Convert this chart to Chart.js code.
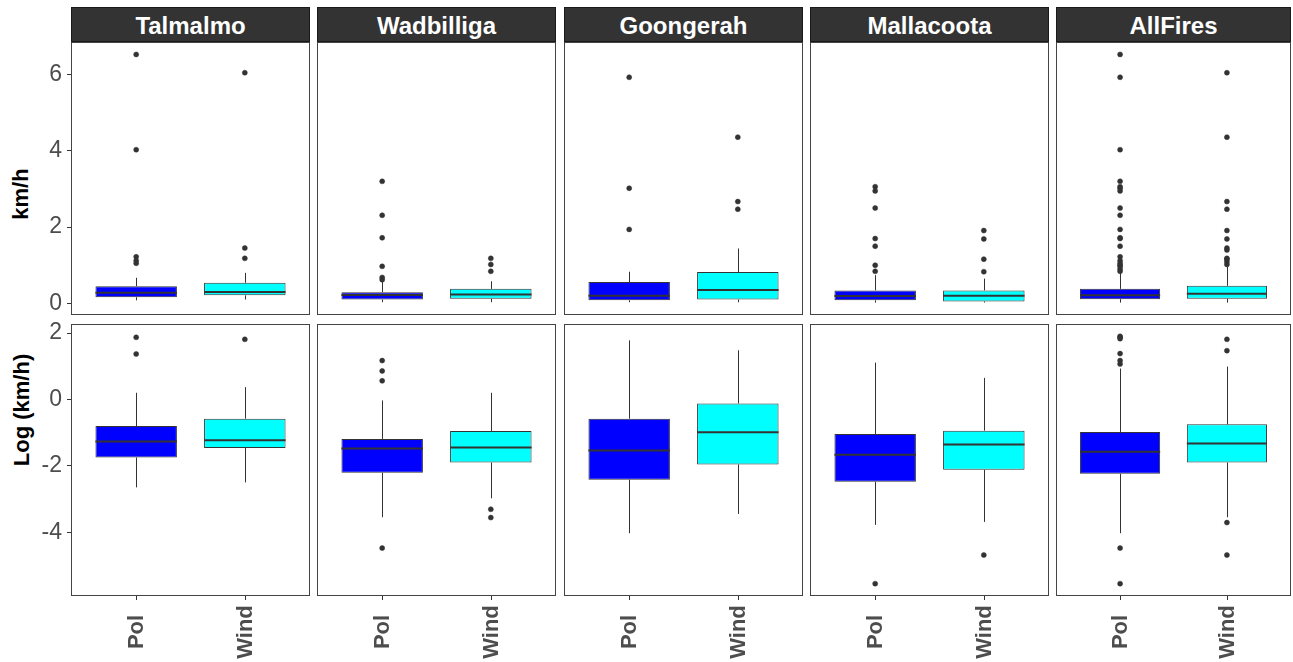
<!DOCTYPE html>
<html><head><meta charset="utf-8">
<script src="https://cdn.jsdelivr.net/npm/chart.js@4.4.1/dist/chart.umd.min.js"></script>
<style>
html,body{margin:0;padding:0;background:#fff;width:1293px;height:662px;overflow:hidden;position:relative;font-family:'Liberation Sans',Arial,sans-serif;}
canvas{position:absolute;}
.strip{position:absolute;background:#333333;border:1px solid #1a1a1a;box-sizing:border-box;color:#fff;font-weight:bold;font-size:24px;text-align:center;line-height:36px;overflow:hidden;}
.ytitle{position:absolute;font-weight:bold;font-size:22px;color:#000;transform:translate(-50%,-50%) rotate(-90deg);white-space:nowrap;}
</style></head><body>
<script>
// ---------------- DATA ----------------
const sites = ['Talmalmo','Wadbilliga','Goongerah','Mallacoota','AllFires'];
const groups = ['Pol','Wind'];
const groupColors = ['#0000FF','#00FFFF'];
const rowTitles = ['km/h','Log (km/h)'];
const yTicksKmh = [0,2,4,6];
const yTicksLog = [-4,-2,0,2];

// km/h row: per site [Pol, Wind]
const kmhLower  = [[0.08,0.10],[0.03,0.03],[0.03,0.03],[0.02,0.02],[0.02,0.02]];
const kmhQ1     = [[0.16,0.21],[0.10,0.12],[0.08,0.10],[0.08,0.05],[0.11,0.12]];
const kmhMedian = [[0.28,0.30],[0.22,0.23],[0.20,0.35],[0.19,0.20],[0.21,0.25]];
const kmhQ3     = [[0.45,0.54],[0.29,0.38],[0.56,0.82],[0.34,0.34],[0.38,0.46]];
const kmhUpper  = [[0.67,0.80],[0.56,0.58],[0.83,1.44],[0.74,0.65],[0.80,0.96]];
const kmhOutliers = [
  [[6.53,4.03,1.22,1.12,1.05],[6.05,1.45,1.18]],
  [[3.20,2.31,1.72,0.97,0.68,0.62],[1.18,1.02,0.84]],
  [[5.93,3.02,1.94],[4.36,2.67,2.47]],
  [[3.06,2.95,2.50,1.70,1.50,1.00,0.84],[1.91,1.69,1.16,0.83]],
  [[6.53,5.93,4.03,3.20,3.06,3.02,2.95,2.50,2.31,1.94,1.72,1.70,1.50,1.22,1.12,1.05,1.00,0.97,0.90,0.84],
   [6.05,4.36,2.67,2.47,1.91,1.69,1.45,1.40,1.18,1.16,1.09,1.02]]
];

// Log(km/h) row: per site [Pol, Wind]
const logLower  = [[-2.65,-2.50],[-3.55,-2.98],[-4.03,-3.45],[-3.78,-3.69],[-4.03,-3.55]];
const logQ1     = [[-1.75,-1.46],[-2.21,-1.90],[-2.42,-1.96],[-2.48,-2.12],[-2.24,-1.90]];
const logMedian = [[-1.27,-1.23],[-1.48,-1.45],[-1.54,-0.99],[-1.67,-1.36],[-1.58,-1.33]];
const logQ3     = [[-0.80,-0.58],[-1.19,-0.95],[-0.58,-0.12],[-1.04,-0.94],[-0.98,-0.75]];
const logUpper  = [[0.20,0.37],[-0.03,0.20],[1.78,1.48],[1.11,0.65],[0.93,0.99]];
const logOutliers = [
  [[1.87,1.37],[1.81]],
  [[1.17,0.86,0.56,-4.48],[-3.31,-3.56]],
  [[],[]],
  [[-5.55],[-4.69]],
  [[1.90,1.87,1.83,1.38,1.17,1.07,-4.48,-5.55],[1.81,1.47,-3.71,-4.69]]
];

// ---------------- LAYOUT ----------------
Chart.defaults.font.family = "'Liberation Sans', Arial, sans-serif";
const W = 1293, H = 662;
const panelX = [[71,310],[317,556],[564,803],[810,1049],[1056,1291]];
const rowY = [[42,315],[324,596]];
const stripTop = 7;
const ink = '#333333';

const rows = [
  {lower:kmhLower,q1:kmhQ1,median:kmhMedian,q3:kmhQ3,upper:kmhUpper,out:kmhOutliers,ticks:yTicksKmh,title:rowTitles[0],titleX:21,titleY:194},
  {lower:logLower,q1:logQ1,median:logMedian,q3:logQ3,upper:logUpper,out:logOutliers,ticks:yTicksLog,title:rowTitles[1],titleX:22,titleY:410}
];

function rowRange(r){
  let vals = [];
  sites.forEach((s,si)=>{ groups.forEach((g,gi)=>{
    vals.push(r.lower[si][gi], r.upper[si][gi]); vals = vals.concat(r.out[si][gi]);
  });});
  const mn = Math.min(...vals), mx = Math.max(...vals), e = (mx-mn)*0.05;
  return [mn-e, mx+e];
}

function makePlugin(r, si, isBottom){
  return {
    id:'boxplot'+si,
    afterDatasetDraw(chart, args){
      if (args.index !== 0) return;
      const ctx = chart.ctx, ys = chart.scales.y;
      const meta = chart.getDatasetMeta(0);
      ctx.save();
      ctx.strokeStyle = ink;
      meta.data.forEach((bar, i)=>{
        const p = bar.getProps(['x','width'], true);
        const px = Math.round(p.x)+0.5;
        ctx.lineWidth = 1;
        ctx.beginPath();
        ctx.moveTo(px, ys.getPixelForValue(r.q3[si][i])); ctx.lineTo(px, ys.getPixelForValue(r.upper[si][i]));
        ctx.moveTo(px, ys.getPixelForValue(r.q1[si][i])); ctx.lineTo(px, ys.getPixelForValue(r.lower[si][i]));
        ctx.stroke();
        ctx.lineWidth = 2;
        const my = ys.getPixelForValue(r.median[si][i]);
        ctx.beginPath(); ctx.moveTo(p.x - p.width/2, my); ctx.lineTo(p.x + p.width/2, my); ctx.stroke();
      });
      ctx.restore();
    },
    afterDraw(chart){
      const ctx = chart.ctx, ca = chart.chartArea, xs = chart.scales.x;
      ctx.save();
      ctx.strokeStyle = '#444';
      ctx.lineWidth = 1;
      ctx.strokeRect(Math.round(ca.left)+0.5, Math.round(ca.top)+0.5, Math.round(ca.width)-1, Math.round(ca.height)-1);
      if (isBottom){
        ctx.strokeStyle = ink;
        ctx.fillStyle = '#4d4d4d';
        ctx.font = "bold 22px 'Liberation Sans', Arial, sans-serif";
        groups.forEach((g,i)=>{
          const px = Math.round(xs.getPixelForValue(i+1))+0.5;
          ctx.beginPath(); ctx.moveTo(px, ca.bottom); ctx.lineTo(px, ca.bottom+4); ctx.stroke();
          ctx.save();
          ctx.translate(px, ca.bottom+36);
          ctx.rotate(-Math.PI/2);
          ctx.textAlign = 'center'; ctx.textBaseline = 'middle';
          ctx.fillText(g, 0, 0);
          ctx.restore();
        });
      }
      ctx.restore();
    }
  };
}

rows.forEach((r, ri)=>{
  const [ymin, ymax] = rowRange(r);
  const [y0, y1] = rowY[ri];
  const isBottom = ri === 1;
  const t = document.createElement('div');
  t.className = 'ytitle'; t.textContent = r.title;
  t.style.left = r.titleX+'px'; t.style.top = r.titleY+'px';
  document.body.appendChild(t);

  sites.forEach((s, si)=>{
    const [x0, x1] = panelX[si];
    const isLeft = si === 0;
    if (ri === 0){
      const st = document.createElement('div');
      st.className = 'strip'; st.textContent = s;
      st.style.left = x0+'px'; st.style.top = stripTop+'px';
      st.style.width = (x1-x0)+'px'; st.style.height = (y0-stripTop)+'px';
      document.body.appendChild(st);
    }
    const cl = isLeft ? 0 : x0-2;
    const cr = Math.min(W, x1+2);
    const ct = y0-2;
    const cb = isBottom ? H : y1+2;
    const cv = document.createElement('canvas');
    cv.width = cr-cl; cv.height = cb-ct;
    cv.style.left = cl+'px'; cv.style.top = ct+'px';
    cv.style.width = (cr-cl)+'px'; cv.style.height = (cb-ct)+'px';
    document.body.appendChild(cv);

    const boxData = groups.map((g,gi)=>({x:gi+1, y:[r.q1[si][gi], r.q3[si][gi]]}));
    const outData = [];
    groups.forEach((g,gi)=>{ r.out[si][gi].forEach(v=>outData.push({x:gi+1, y:v})); });

    const yScale = {type:'linear', min:ymin, max:ymax, display:isLeft,
      afterBuildTicks:sc=>{ sc.ticks = r.ticks.map(v=>({value:v})); },
      border:{display:false},
      grid:{drawOnChartArea:false, drawTicks:true, tickLength:4, tickColor:ink, color:ink},
      ticks:{color:'#4d4d4d', font:{size:23}, padding:5, display:isLeft}};
    if (isLeft) yScale.afterFit = sc=>{ sc.width = x0; sc.paddingTop = 0; sc.paddingBottom = 0; };

    new Chart(cv, {
      type:'bar',
      data:{datasets:[
        {type:'bar', data:boxData, backgroundColor:groupColors, borderColor:ink, borderWidth:1,
         borderSkipped:false, categoryPercentage:0.75, barPercentage:1, order:2},
        {type:'scatter', data:outData, pointRadius:2.5, pointBackgroundColor:ink, pointBorderColor:ink,
         pointBorderWidth:0.5, showLine:false, order:1, clip:false}
      ]},
      options:{
        responsive:false, animation:false, devicePixelRatio:1,
        events:[],
        layout:{autoPadding:false, padding:{left:isLeft?0:(x0-cl), right:cr-x1, top:y0-ct, bottom:cb-y1}},
        plugins:{legend:{display:false}, tooltip:{enabled:false}},
        scales:{
          x:{type:'linear', min:1-0.6, max:groups.length+0.6, display:false, offset:false, bounds:'data', grace:0,
             grid:{display:false, offset:false}, ticks:{display:false},
             afterBuildTicks:sc=>{ sc.ticks = groups.map((g,i)=>({value:i+1})); },
             afterFit:sc=>{ sc.paddingLeft = 0; sc.paddingRight = 0; sc.height = 0; }},
          y:yScale
        }
      },
      plugins:[makePlugin(r, si, isBottom)]
    });
  });
});
</script>
</body></html>
